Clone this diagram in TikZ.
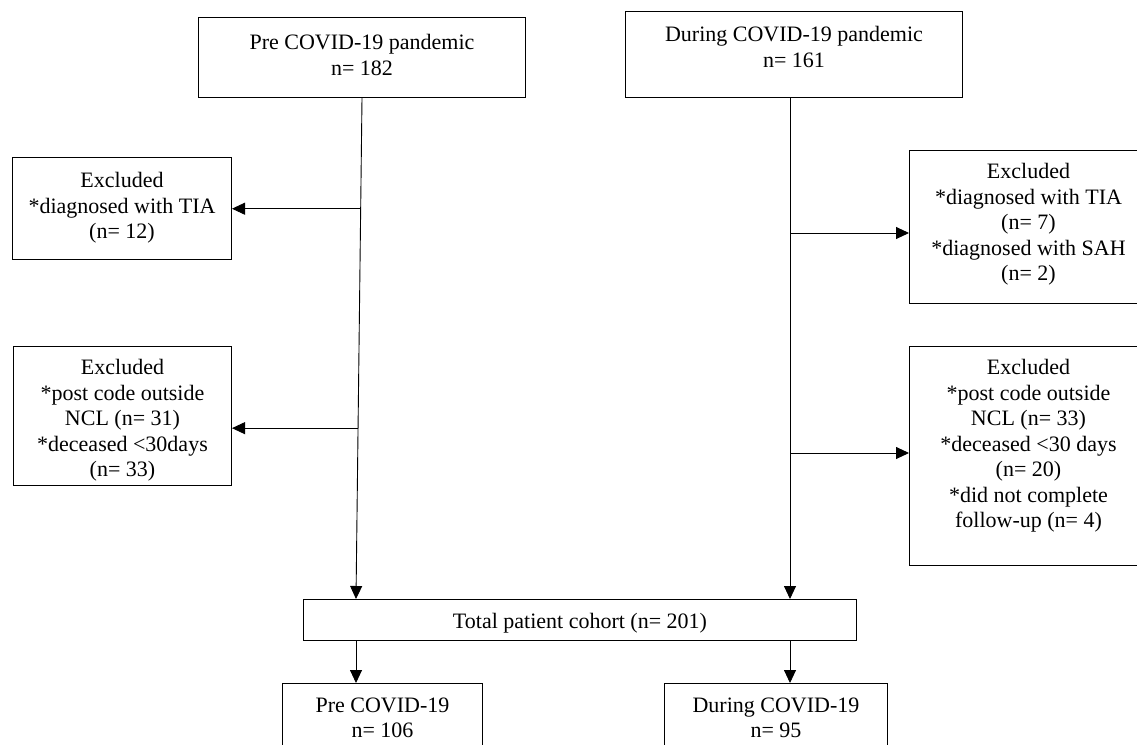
\documentclass[tikz,border=0pt]{standalone}
\usepackage{fontspec}
\setmainfont{Liberation Serif}
\usetikzlibrary{arrows.meta,calc}
\newcommand{\bxt}[4]{\parbox[c][#2][t]{#1}{\centering\vspace*{#3}#4\par}}
\begin{document}
\begin{tikzpicture}[x=1pt,y=-1pt,
  box/.style={draw, line width=1pt, inner sep=0pt, anchor=north west, font=\fontsize{22}{25.5}\selectfont},
  conn/.style={line width=0.9pt},
  arr/.style={conn, -{Triangle[length=13pt,width=12pt]}}]
\useasboundingbox (0,0) rectangle (1137,744);
\node[box] (A) at (198,17) {\bxt{327pt}{80pt}{17pt}{Pre COVID-19 pandemic\\n= 182}};
\node[box] (B) at (625,11) {\bxt{337pt}{86pt}{15pt}{During COVID-19 pandemic\\n= 161}};
\node[box] (C) at (12,157) {\bxt{219pt}{102pt}{15pt}{Excluded\\{}*diagnosed with TIA\\(n= 12)}};
\node[box] (D) at (13,346) {\bxt{218pt}{139pt}{13pt}{Excluded\\{}*post code outside\\NCL (n= 31)\\{}*deceased <30days\\(n= 33)}};
\node[box] (E) at (909,150) {\bxt{238pt}{153pt}{13pt}{Excluded\\{}*diagnosed with TIA\\(n= 7)\\{}*diagnosed with SAH\\(n= 2)}};
\node[box] (F) at (909,346) {\bxt{238pt}{219pt}{13pt}{Excluded\\{}*post code outside\\NCL (n= 33)\\{}*deceased <30 days\\(n= 20)\\{}*did not complete\\follow-up (n= 4)}};
\node[box] (G) at (303,599) {\bxt{553pt}{41pt}{14pt}{Total patient cohort (n= 201)}};
\node[box] (H) at (282,683) {\bxt{200pt}{75pt}{14pt}{Pre COVID-19\\n= 106}};
\node[box] (I) at (664,683) {\bxt{223pt}{75pt}{14pt}{During COVID-19\\n= 95}};
\coordinate (l1) at (356,599);
\coordinate (r1) at (790,599);
\draw[arr] (A.south) -- (l1);
\draw[arr] (r1 |- B.south) -- (r1);
\coordinate (p1) at ($(A.south)!0.221!(l1)$);
\coordinate (p2) at ($(A.south)!0.659!(l1)$);
\draw[arr] (p1) -- (p1 -| C.east);
\draw[arr] (p2) -- (p2 -| D.east);
\coordinate (q1) at (790,233);
\coordinate (q2) at (790,453);
\draw[arr] (q1) -- (q1 -| E.west);
\draw[arr] (q2) -- (q2 -| F.west);
\draw[arr] (G.south -| l1) -- (H.north -| l1);
\draw[arr] (G.south -| r1) -- (I.north -| r1);
\end{tikzpicture}
\end{document}
